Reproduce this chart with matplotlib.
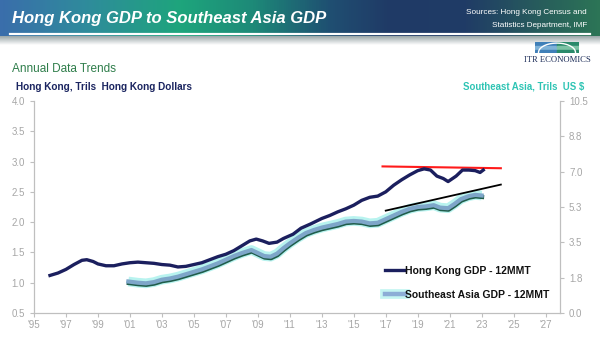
import numpy as np
import matplotlib
matplotlib.use("Agg")
import matplotlib.pyplot as plt
from matplotlib.colors import LinearSegmentedColormap
from matplotlib.lines import Line2D
import matplotlib.patheffects as pe

plt.rcParams['font.family'] = ['Liberation Sans', 'DejaVu Sans']

# ---------------- data ----------------
hk_years = [1996.0, 1996.5, 1997.0, 1997.5, 1998.0, 1998.3, 1998.7, 1999.0, 1999.5, 2000.0,
            2000.5, 2001.0, 2001.5, 2002.0, 2002.5, 2003.0, 2003.5, 2004.0, 2004.5, 2005.0,
            2005.5, 2006.0, 2006.5, 2007.0, 2007.5, 2008.0, 2008.5, 2008.9, 2009.3, 2009.7,
            2010.2, 2010.6, 2011.2, 2011.7, 2012.3, 2013.0, 2013.5, 2014.0, 2014.5, 2015.0,
            2015.5, 2016.0, 2016.5, 2017.0, 2017.5, 2018.0, 2018.5, 2019.0, 2019.4, 2019.8,
            2020.2, 2020.6, 2020.9, 2021.4, 2021.8, 2022.2, 2022.6, 2022.9, 2023.1]
hk_gdp = [1.12, 1.16, 1.22, 1.30, 1.37, 1.38, 1.35, 1.31, 1.28, 1.28,
          1.31, 1.33, 1.34, 1.33, 1.32, 1.30, 1.29, 1.26, 1.27, 1.30,
          1.33, 1.38, 1.43, 1.47, 1.53, 1.61, 1.69, 1.72, 1.69, 1.65,
          1.67, 1.73, 1.80, 1.90, 1.97, 2.06, 2.11, 2.17, 2.22, 2.28,
          2.36, 2.41, 2.43, 2.50, 2.61, 2.70, 2.78, 2.85, 2.88, 2.86,
          2.76, 2.72, 2.67, 2.76, 2.86, 2.86, 2.85, 2.82, 2.86]

sea_years = [2000.9, 2001.5, 2002.0, 2002.5, 2003.0, 2003.5, 2004.0, 2004.5, 2005.0, 2005.5,
             2006.0, 2006.5, 2007.0, 2007.5, 2008.0, 2008.6, 2009.0, 2009.4, 2009.8, 2010.2,
             2010.6, 2011.0, 2011.5, 2012.0, 2012.5, 2013.0, 2013.5, 2014.0, 2014.5, 2015.0,
             2015.5, 2016.0, 2016.5, 2017.0, 2017.5, 2018.0, 2018.5, 2019.0, 2019.5, 2020.0,
             2020.4, 2020.9, 2021.3, 2021.7, 2022.2, 2022.6, 2023.0]
sea_gdp = [1.56, 1.50, 1.47, 1.53, 1.65, 1.71, 1.80, 1.92, 2.04, 2.16,
           2.31, 2.46, 2.64, 2.82, 2.97, 3.12, 2.97, 2.82, 2.79, 2.94,
           3.21, 3.45, 3.72, 3.96, 4.11, 4.23, 4.32, 4.41, 4.53, 4.56,
           4.53, 4.44, 4.47, 4.65, 4.83, 5.01, 5.16, 5.25, 5.28, 5.34,
           5.22, 5.19, 5.40, 5.64, 5.79, 5.85, 5.82]

hk_trend_years = [2016.8, 2024.2]
hk_trend = [2.92, 2.89]
sea_trend_years = [2017.0, 2024.2]
sea_trend = [5.07, 6.36]

left_ticks = [0.5, 1.0, 1.5, 2.0, 2.5, 3.0, 3.5, 4.0]
right_ticks = [0.0, 1.75, 3.5, 5.25, 7.0, 8.75, 10.5]
right_labels = ['0.0', '1.8', '3.5', '5.3', '7.0', '8.8', '10.5']
x_ticks = list(range(1995, 2028, 2))
x_labels = ["'%02d" % (y % 100) for y in x_ticks]

# ---------------- figure ----------------
W, H = 600, 337
fig = plt.figure(figsize=(W / 100, H / 100), dpi=100)
fig.patch.set_facecolor('white')

# header banner gradient
ban = fig.add_axes([0, 1 - 36 / H, 1, 36 / H])
ban.set_axis_off()
cmap = LinearSegmentedColormap.from_list('ban', [
    (0.0, '#3a6eab'), (0.14, '#2f8b9c'), (0.30, '#1ea57c'), (0.42, '#1d8a78'),
    (0.55, '#1f4f72'), (0.65, '#1f3a66'), (0.78, '#203c66'), (0.9, '#275c5c'), (1.0, '#2c7456')])
grad = np.linspace(0, 1, 600).reshape(1, -1)
ban.imshow(grad, aspect='auto', cmap=cmap, extent=[0, 1, 0, 1])
ban.set_xlim(0, 1)
ban.set_ylim(0, 1)

# shadow below banner
sh = fig.add_axes([0, 1 - 45 / H, 1, 9 / H])
sh.set_axis_off()
shade = LinearSegmentedColormap.from_list('sh', ['#ffffff', '#9aa6a8'])
sgrad = np.linspace(0, 1, 50).reshape(-1, 1)
sh.imshow(sgrad, aspect='auto', cmap=shade, extent=[0, 1, 0, 1], origin='lower')

# white rule in banner
fig.add_artist(Line2D([10 / W, 590 / W], [1 - 33.5 / H, 1 - 33.5 / H], color='white', lw=1.6))

fig.text(12 / W, 1 - 19 / H, 'Hong Kong GDP to Southeast Asia GDP', color='white',
         fontsize=12.0, fontweight='bold', fontstyle='italic', va='center', ha='left')
fig.text(587 / W, 1 - 13 / H, 'Sources: Hong Kong Census and', color='white',
         fontsize=5.9, va='center', ha='right')
fig.text(587 / W, 1 - 25.5 / H, 'Statistics Department, IMF', color='white',
         fontsize=5.9, va='center', ha='right')

# logo
lg = fig.add_axes([535 / W, 1 - 53 / H, 44 / W, 11 / H])
lg.set_axis_off()
lg.set_xlim(0, 1)
lg.set_ylim(0, 1)
lg.add_patch(plt.Rectangle((0, 0.66), 0.49, 0.34, color='#3f7fb8'))
lg.add_patch(plt.Rectangle((0, 0.33), 0.49, 0.30, color='#7fb2d8'))
lg.add_patch(plt.Rectangle((0, 0.0), 0.49, 0.30, color='#3f7fb8'))
lg.add_patch(plt.Rectangle((0.51, 0.66), 0.49, 0.34, color='#2a8a6a'))
lg.add_patch(plt.Rectangle((0.51, 0.33), 0.49, 0.30, color='#7cc2a4'))
lg.add_patch(plt.Rectangle((0.51, 0.0), 0.49, 0.30, color='#2a8a6a'))
t = np.linspace(0, np.pi, 40)
lg.plot(0.5 + 0.42 * np.cos(t), 0.05 + 0.85 * np.sin(t), color='white', lw=1.0)
fig.text(557 / W, 1 - 60 / H, 'ITR ECONOMICS', family=['Liberation Serif'], color='#1f2f5a',
         fontsize=6.2, ha='center', va='center')

fig.text(12 / W, 1 - 69.5 / H, 'Annual Data Trends', color='#2e7d4a', fontsize=8.5,
         ha='left', va='center')
fig.text(16 / W, 1 - 87 / H, 'Hong Kong, Trils  Hong Kong Dollars', color='#1b2560',
         fontsize=7.2, fontweight='bold', ha='left', va='center')
fig.text(584 / W, 1 - 87 / H, 'Southeast Asia, Trils  US $', color='#2ec4b4',
         fontsize=6.9, fontweight='bold', ha='right', va='center')

# main axes
ax = fig.add_axes([34 / W, 1 - 313 / H, (560 - 34) / W, (313 - 101) / H])
ax2 = ax.twinx()
ax.set_xlim(1995, 2027.9)
ax.set_ylim(0.5, 4.0)
ax2.set_ylim(0.0, 10.5)

grey = '#a6a6a6'
for a in (ax, ax2):
    a.spines['top'].set_visible(False)
    for s in ('left', 'right', 'bottom'):
        a.spines[s].set_color('#bfbfbf')
        a.spines[s].set_linewidth(0.8)
ax.set_yticks(left_ticks)
ax.set_yticklabels(['%.1f' % v for v in left_ticks])
ax2.set_yticks(right_ticks)
ax2.set_yticklabels(right_labels)
ax.set_xticks(x_ticks)
ax.set_xticklabels(x_labels)
ax.tick_params(axis='both', colors='#bfbfbf', labelcolor=grey, labelsize=7, length=3, width=0.8)
ax2.tick_params(axis='y', colors='#bfbfbf', labelcolor=grey, labelsize=7, length=3, width=0.8)
ax.tick_params(axis='x', pad=2)

# SEA line (right axis) with glow + shadow
sea_fx = [pe.SimpleLineShadow(offset=(0.3, -1.1), shadow_color='#1f5c4a', alpha=1.0), pe.Normal()]
ax2.plot(sea_years, sea_gdp, color='#b8f3ef', lw=7, solid_capstyle='butt', zorder=2)
ax2.plot(sea_years, sea_gdp, color='#7ea6c9', lw=3.0, zorder=3, path_effects=sea_fx)
ax2.plot(sea_trend_years, sea_trend, color='black', lw=1.3, zorder=4)

# HK line (left axis), drawn on ax2 with left-axis transform so it sits on top
ax2.plot(hk_years, hk_gdp, color='#1b1f5e', lw=2.4, zorder=5, transform=ax.transData)
ax2.plot(hk_trend_years, hk_trend, color='#ff1a1a', lw=1.5, zorder=4, transform=ax.transData)

handles = [Line2D([], [], color='#1b1f5e', lw=2.4),
           Line2D([], [], color='#8cadd6', lw=3.2,
                  path_effects=[pe.Stroke(linewidth=7, foreground='#c4f5f2'), pe.Normal()])]
leg = fig.legend(handles, ['Hong Kong GDP - 12MMT', 'Southeast Asia GDP - 12MMT'],
                 loc='upper left', bbox_to_anchor=(385 / W, 1 - 266 / H), frameon=False,
                 handlelength=1.9, handletextpad=0.05, labelspacing=1.3, borderpad=0,
                 borderaxespad=0, prop={'weight': 'bold', 'size': 7.5})
for txt in leg.get_texts():
    txt.set_color('#111111')

fig.savefig('out.png', dpi=100)
